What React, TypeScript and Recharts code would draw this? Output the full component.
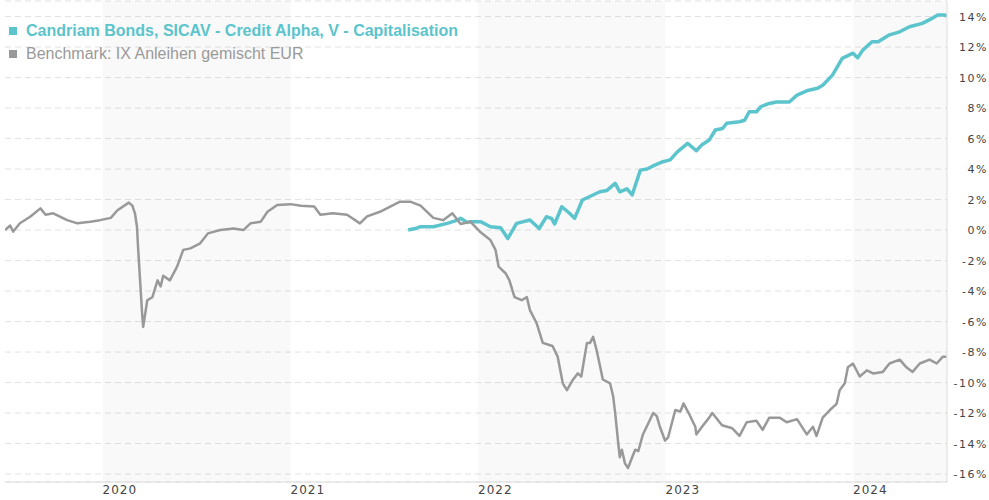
import React from "react";
import {
  LineChart,
  Line,
  XAxis,
  YAxis,
  CartesianGrid,
  ReferenceArea,
} from "recharts";

// ---- Data ----
const benchDates = [
  "2019-06-25", "2019-07-05", "2019-07-11", "2019-07-24", "2019-08-13", "2019-09-02", "2019-09-12",
  "2019-09-27", "2019-10-24", "2019-11-13", "2019-12-08", "2019-12-27", "2020-01-17", "2020-01-30",
  "2020-02-21", "2020-02-28", "2020-03-04", "2020-03-08", "2020-03-10", "2020-03-14", "2020-03-18",
  "2020-03-20", "2020-03-28", "2020-04-07", "2020-04-17", "2020-04-23", "2020-04-28", "2020-05-11",
  "2020-05-25", "2020-06-06", "2020-06-20", "2020-07-09", "2020-07-24", "2020-08-17", "2020-09-12",
  "2020-10-01", "2020-10-15", "2020-11-04", "2020-11-17", "2020-12-06", "2021-01-01", "2021-01-21",
  "2021-02-16", "2021-02-28", "2021-03-24", "2021-04-21", "2021-05-16", "2021-05-30", "2021-06-24",
  "2021-08-02", "2021-08-22", "2021-09-11", "2021-10-06", "2021-10-25", "2021-11-12", "2021-11-28",
  "2021-12-17", "2022-01-06", "2022-01-25", "2022-02-04", "2022-02-10", "2022-02-24", "2022-03-03",
  "2022-03-13", "2022-03-27", "2022-04-06", "2022-04-12", "2022-04-25", "2022-05-07", "2022-05-26",
  "2022-06-05", "2022-06-15", "2022-06-23", "2022-07-04", "2022-07-14", "2022-07-21", "2022-08-01",
  "2022-08-07", "2022-08-13", "2022-08-20", "2022-09-01", "2022-09-15", "2022-09-21", "2022-09-25",
  "2022-10-01", "2022-10-04", "2022-10-08", "2022-10-14", "2022-10-20", "2022-10-28", "2022-11-03",
  "2022-11-09", "2022-11-18", "2022-11-28", "2022-12-08", "2022-12-15", "2022-12-21", "2022-12-31",
  "2023-01-06", "2023-01-20", "2023-01-30", "2023-02-05", "2023-02-15", "2023-02-28", "2023-03-02",
  "2023-03-13", "2023-03-27", "2023-04-02", "2023-04-21", "2023-05-11", "2023-05-25", "2023-06-08",
  "2023-06-27", "2023-07-09", "2023-07-22", "2023-08-11", "2023-08-25", "2023-09-14", "2023-10-03",
  "2023-10-15", "2023-10-22", "2023-11-03", "2023-11-17", "2023-11-30", "2023-12-06", "2023-12-16",
  "2023-12-22", "2024-01-01", "2024-01-14", "2024-01-28", "2024-02-09", "2024-02-28", "2024-03-12",
  "2024-04-01", "2024-04-14", "2024-04-26", "2024-05-10", "2024-05-29", "2024-06-12", "2024-06-24",
  "2024-07-01",
];
const benchValues = [
  0.0, 0.3, -0.1, 0.45, 0.87, 1.42, 1.0,
  1.1, 0.65, 0.44, 0.55, 0.65, 0.8, 1.3,
  1.8, 1.6, 1.1, 0.2, -1.1, -3.3, -5.5,
  -6.35, -4.6, -4.4, -3.3, -3.7, -3.0, -3.3,
  -2.4, -1.3, -1.2, -0.87, -0.22, 0.0, 0.1,
  0.0, 0.44, 0.55, 1.2, 1.64, 1.7, 1.6,
  1.55, 1.0, 1.1, 1.0, 0.44, 0.9, 1.2,
  1.86, 1.86, 1.6, 0.8, 0.65, 1.1, 0.4,
  0.55, -0.15, -0.65, -1.3, -2.4, -2.85, -3.3,
  -4.4, -4.6, -4.4, -5.25, -6.1, -7.4, -7.6,
  -8.3, -10.05, -10.5, -9.85, -9.4, -9.6, -7.4,
  -7.4, -7.0, -7.9, -9.8, -10.05, -10.9, -12.0,
  -14.0, -14.9, -14.4, -15.3, -15.6, -14.9, -14.4,
  -14.5, -13.4, -12.7, -12.0, -12.2, -12.9, -13.8,
  -13.6, -11.8, -11.9, -11.37, -12.0, -12.9, -13.4,
  -12.9, -12.3, -12.0, -12.8, -13.0, -13.5, -12.6,
  -12.5, -13.1, -12.3, -12.3, -12.6, -12.4, -13.4,
  -12.9, -13.5, -12.3, -11.8, -11.4, -10.5, -10.05,
  -9.0, -8.75, -9.6, -9.2, -9.4, -9.3, -8.75,
  -8.5, -9.0, -9.3, -8.75, -8.5, -8.75, -8.3,
  -8.3,
];

const fundDates = [
  "2021-08-18", "2021-09-01", "2021-09-11", "2021-10-06", "2021-11-02", "2021-11-22", "2021-11-28",
  "2021-12-11", "2021-12-17", "2022-01-06", "2022-01-25", "2022-02-14", "2022-02-28", "2022-03-17",
  "2022-04-12", "2022-04-30", "2022-05-14", "2022-05-24", "2022-05-30", "2022-06-13", "2022-06-28",
  "2022-07-08", "2022-07-23", "2022-08-13", "2022-08-26", "2022-09-09", "2022-09-25", "2022-10-04",
  "2022-10-18", "2022-10-28", "2022-11-13", "2022-11-26", "2022-12-11", "2022-12-27", "2023-01-10",
  "2023-01-24", "2023-02-13", "2023-03-02", "2023-03-13", "2023-03-27", "2023-04-08", "2023-04-22",
  "2023-04-30", "2023-05-25", "2023-06-04", "2023-06-13", "2023-06-27", "2023-07-06", "2023-07-22",
  "2023-08-05", "2023-08-30", "2023-09-14", "2023-10-03", "2023-10-24", "2023-11-03", "2023-11-22",
  "2023-12-11", "2024-01-01", "2024-01-10", "2024-01-20", "2024-02-07", "2024-02-19", "2024-03-12",
  "2024-04-01", "2024-04-20", "2024-05-15", "2024-06-04", "2024-06-14", "2024-06-28", "2024-07-01",
];
const fundValues = [
  0.0, 0.1, 0.22, 0.22, 0.44, 0.65, 0.77,
  0.5, 0.55, 0.55, 0.22, 0.15, -0.55, 0.44,
  0.66, 0.1, 0.87, 0.77, 0.4, 1.53, 1.1,
  0.77, 1.97, 2.3, 2.51, 2.6, 3.06, 2.51,
  2.7, 2.3, 3.93, 4.0, 4.26, 4.48, 4.6,
  5.13, 5.69, 5.2, 5.6, 5.9, 6.56, 6.66,
  7.0, 7.1, 7.2, 7.76, 7.76, 8.1, 8.3,
  8.4, 8.4, 8.85, 9.13, 9.3, 9.5, 10.16,
  11.26, 11.6, 11.3, 11.8, 12.35, 12.35, 12.8,
  13.0, 13.33, 13.55, 13.9, 14.1, 14.1, 14.0,
];

const yTicks = [-16, -14, -12, -10, -8, -6, -4, -2, 0, 2, 4, 6, 8, 10, 12, 14];
const yearTicks = ["2020-01-01", "2021-01-01", "2022-01-01", "2023-01-01", "2024-01-01"];
const shadedYears = [
  ["2020-01-01", "2021-01-01"],
  ["2022-01-01", "2023-01-01"],
  ["2024-01-01", "2024-07-02"],
];
const domainDates = ["2019-06-25", "2024-07-02"];
const seriesNames = [
  "Candriam Bonds, SICAV - Credit Alpha, V - Capitalisation",
  "Benchmark: IX Anleihen gemischt EUR",
];

const FUND_COLOR = "#5bc4cc";
const BENCH_COLOR = "#999999";

const toTs = (s: string) => {
  const [y, m, d] = s.split("-").map(Number);
  return Date.UTC(y, m - 1, d);
};

const benchData = benchDates.map((d, i) => ({ t: toTs(d), v: benchValues[i] }));
const fundData = fundDates.map((d, i) => ({ t: toTs(d), v: fundValues[i] }));

const tickFont = "'DejaVu Sans', Verdana, sans-serif";

const XTick = (props: any) => {
  const { x, y, payload } = props;
  return (
    <text
      x={x}
      y={y + 12}
      textAnchor="start"
      fill="#444"
      fontSize={12}
      fontFamily={tickFont}
      letterSpacing={1}
    >
      {new Date(payload.value).getUTCFullYear()}
    </text>
  );
};

const YTick = (props: any) => {
  const { x, y, payload } = props;
  return (
    <text
      x={x + 41}
      y={y + 4}
      textAnchor="end"
      fill="#444"
      fontSize={11}
      fontFamily={tickFont}
      letterSpacing={1.5}
    >
      {`${payload.value}%`}
    </text>
  );
};

const LegendBlock = () => {
  const colors = [FUND_COLOR, BENCH_COLOR];
  return (
    <div
      style={{
        position: "absolute",
        left: 9,
        top: 19,
        fontFamily: "'Liberation Sans', Arial, sans-serif",
        fontSize: 16,
        pointerEvents: "none",
      }}
    >
      {seriesNames.map((n, i) => (
        <div
          key={n}
          style={{
            display: "flex",
            alignItems: "center",
            height: 23,
            color: colors[i],
            fontWeight: i === 0 ? "bold" : "normal",
            whiteSpace: "nowrap",
          }}
        >
          <span
            style={{
              display: "inline-block",
              width: 8,
              height: 8,
              background: colors[i],
              marginRight: 9,
            }}
          />
          {n}
        </div>
      ))}
    </div>
  );
};

export default function App() {
  return (
    <div style={{ position: "absolute", left: 0, top: 0, width: 989, height: 500, background: "#fff" }}>
      <LineChart
        width={989}
        height={500}
        margin={{ top: 1, right: 0, left: 5, bottom: 0 }}
      >
        {shadedYears.map(([a, b]) => (
          <ReferenceArea
            key={a}
            x1={toTs(a)}
            x2={toTs(b)}
            fill="#000"
            fillOpacity={0.024}
            stroke="none"
            ifOverflow="hidden"
          />
        ))}
        <CartesianGrid vertical={false} stroke="#e2e2e2" strokeDasharray="6 4" />
        <XAxis
          type="number"
          dataKey="t"
          domain={[toTs(domainDates[0]), toTs(domainDates[1])]}
          allowDataOverflow
          ticks={yearTicks.map(toTs)}
          tick={<XTick />}
          tickLine={false}
          tickSize={0}
          tickMargin={0}
          height={18}
          axisLine={{ stroke: "#dcdcdc" }}
        />
        <YAxis
          orientation="right"
          type="number"
          domain={[-16.52, 15.02]}
          allowDataOverflow
          ticks={yTicks}
          tick={<YTick />}
          tickLine={false}
          tickSize={0}
          tickMargin={0}
          width={42}
          axisLine={{ stroke: "#dcdcdc" }}
        />
        <Line
          data={fundData}
          dataKey="v"
          type="linear"
          stroke={FUND_COLOR}
          strokeWidth={3.5}
          dot={false}
          isAnimationActive={false}
          strokeLinejoin="round"
        />
        <Line
          data={benchData}
          dataKey="v"
          type="linear"
          stroke={BENCH_COLOR}
          strokeWidth={2.5}
          dot={false}
          isAnimationActive={false}
          strokeLinejoin="round"
        />
      </LineChart>
      <LegendBlock />
    </div>
  );
}
